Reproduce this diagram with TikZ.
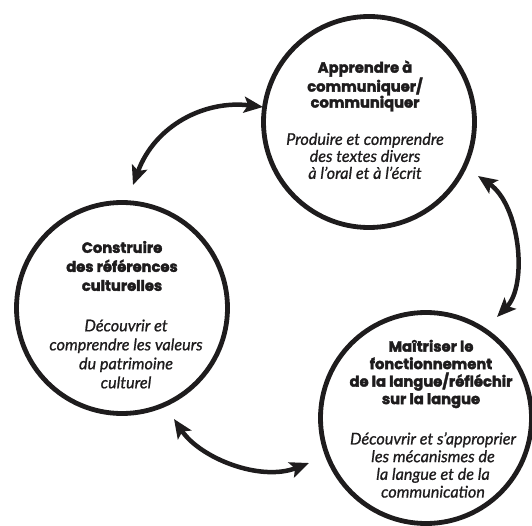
\documentclass[tikz,border=0pt]{standalone}
\usepackage{fontspec}
\usetikzlibrary{arrows.meta}
\newfontfamily\headfont{Poppins}[FakeBold=2.4]
\newfontfamily\notefont{Lato}[FakeBold=0.9]
\definecolor{ink}{HTML}{1E1C1D}

\tikzset{
  ring/.style={circle, draw=ink, line width=4.8pt, minimum size=211pt, inner sep=0pt},
  headtext/.style={align=center, text=ink, font=\headfont\bfseries\fontsize{14.7}{#1}\selectfont},
  notetext/.style={align=center, text=ink, font=\notefont\itshape\fontsize{16.2}{#1}\selectfont},
  link/.style={draw=ink, line width=4.5pt,
    {Stealth[length=19pt, width=16pt, inset=4pt]}-{Stealth[length=19pt, width=16pt, inset=4pt]}}
}

\begin{document}
\begin{tikzpicture}[x=1pt, y=-1pt]
  \useasboundingbox (0,0) rectangle (532,526);

  % the three domains
  \node[ring] (top)   at (369,122) {};
  \node[ring] (left)  at (122,308) {};
  \node[ring] (right) at (426,418) {};

  % texts of the upper circle
  \node[headtext=16] (topH) at (365,86) {Apprendre à\\communiquer/\\communiquer};
  \node[notetext=17] (topN) at (365,156) {Produire et comprendre\\des textes divers\\à l’oral et à l’écrit};

  % texts of the left circle
  \node[headtext=19] (leftH) at (122,266) {Construire\\des références\\culturelles};
  \node[notetext=19] (leftN) at (126,354) {Découvrir et\\comprendre les valeurs\\du patrimoine\\culturel};

  % texts of the lower right circle
  \node[headtext=17.5] (rightH) at (431,374) {Maîtriser le\\fonctionnement\\de la langue/réfléchir\\sur la langue};
  \node[notetext=17.7] (rightN) at (433,465) {Découvrir et s’approprier\\les mécanismes de\\la langue et de la\\communication};

  % ends of the double arrows
  \coordinate (a1) at (263,107);
  \coordinate (a2) at (133,185);
  \coordinate (b1) at (478,176);
  \coordinate (b2) at (497,317);
  \coordinate (c1) at (174,419);
  \coordinate (c2) at (309,463);

  % double arrows between the circles
  \draw[link] (a1) .. controls (205,100) and (155,125) .. (a2);
  \draw[link] (b1) .. controls (520,205) and (528,285) .. (b2);
  \draw[link] (c1) .. controls (200,458) and (260,482) .. (c2);
\end{tikzpicture}
\end{document}
